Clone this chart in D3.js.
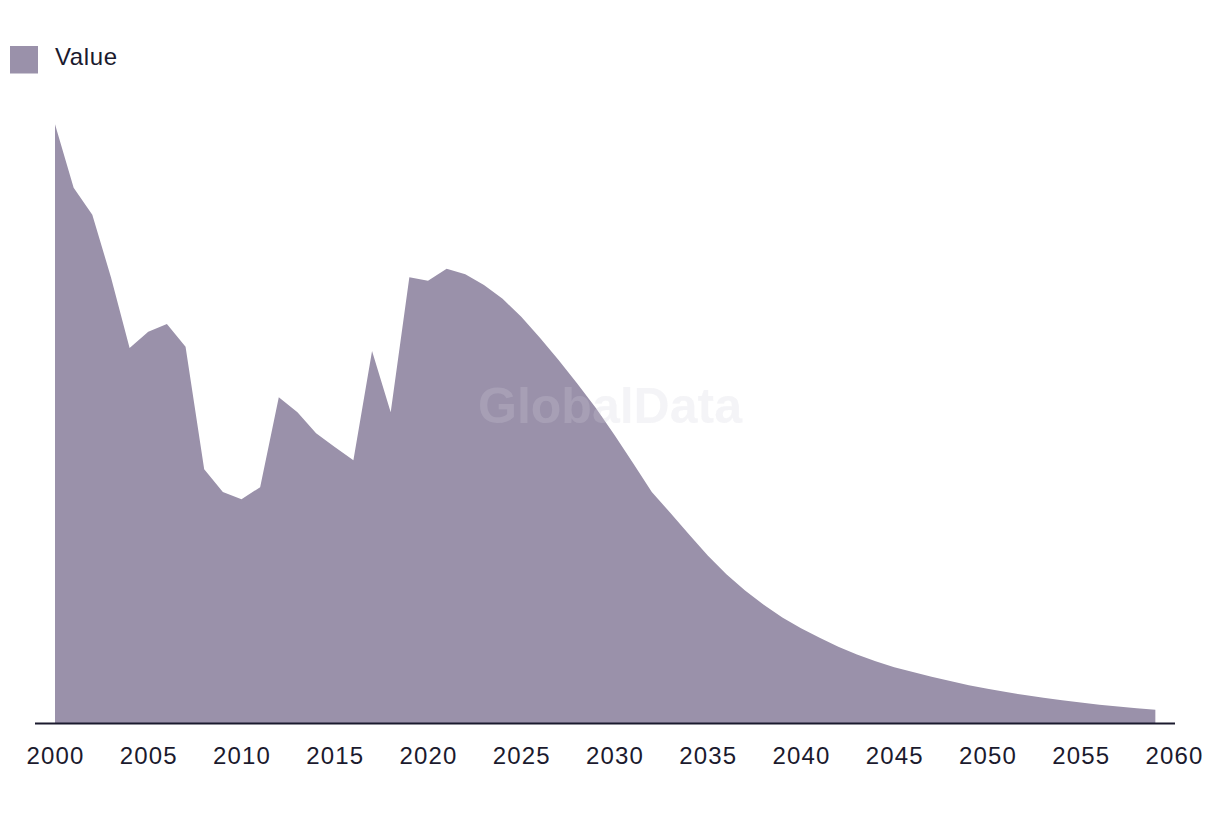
<!DOCTYPE html>
<html>
<head>
<meta charset="utf-8">
<script src="https://cdn.jsdelivr.net/npm/d3@7"></script>
<style>
  html, body { margin: 0; padding: 0; background: #fff; }
  svg { display: block; }
  text { font-family: "Liberation Sans", Arial, sans-serif; }
</style>
</head>
<body>
<svg id="chart" width="1220" height="814"></svg>
<script>
const years = d3.range(2000, 2060);
const values = [
  99.8, 89.2, 84.7, 74.3, 62.5, 65.2, 66.5, 62.7, 42.3, 38.5,
  37.3, 39.3, 54.3, 51.8, 48.3, 46.0, 43.8, 62.0, 51.8, 74.3,
  73.7, 75.7, 74.8, 73.0, 70.7, 67.7, 64.2, 60.5, 56.6, 52.5,
  48.0, 43.3, 38.5, 35.0, 31.4, 27.9, 24.8, 22.1, 19.7, 17.6,
  15.8, 14.2, 12.7, 11.4, 10.3, 9.3, 8.5, 7.7, 7.0, 6.3,
  5.7, 5.15, 4.65, 4.2, 3.8, 3.4, 3.05, 2.75, 2.45, 2.2
];
const tickYears = [2000, 2005, 2010, 2015, 2020, 2025, 2030, 2035, 2040, 2045, 2050, 2055, 2060];
const seriesName = "Value";
const fillColor = "#9a91aa";
const textColor = "#1b1a2e";

const data = years.map((y, i) => ({ year: y, value: values[i] }));
const svg = d3.select("#chart");

const x = d3.scaleLinear().domain([2000, 2060]).range([55, 1174]);
const y = d3.scaleLinear().domain([0, 100]).range([723, 123]);

function watermark(fill, opacity) {
  svg.append("text")
    .attr("x", 610).attr("y", 423)
    .attr("text-anchor", "middle")
    .style("font-family", "'Liberation Sans', Arial, sans-serif")
    .style("font-weight", "700")
    .style("font-size", "50px")
    .attr("fill", fill)
    .attr("fill-opacity", opacity)
    .text("GlobalData");
}

watermark("rgb(228,228,232)", 0.32);

// area
const area = d3.area()
  .x(d => x(d.year))
  .y0(y(0))
  .y1(d => y(d.value));

svg.append("path")
  .datum(data)
  .attr("d", area)
  .attr("fill", fillColor);

watermark("rgb(235,235,240)", 0.16);

// x axis
const xAxis = d3.axisBottom(x)
  .tickValues(tickYears)
  .tickFormat(d3.format("d"))
  .tickSize(0);

const gx = svg.append("g")
  .attr("transform", `translate(0,${y(0)})`)
  .call(xAxis);
gx.select(".domain").remove();
gx.append("line")
  .attr("x1", 35).attr("x2", 1175)
  .attr("y1", 0.5).attr("y2", 0.5)
  .attr("stroke", textColor)
  .attr("stroke-width", 2);
gx.selectAll(".tick text")
  .attr("y", 41)
  .attr("dy", 0)
  .attr("fill", textColor)
  .style("font-size", "24px")
  .style("letter-spacing", "1.2px")
  .style("font-family", "'Liberation Sans', Arial, sans-serif");

// legend
const legend = svg.append("g").attr("transform", "translate(10,46)");
legend.append("rect")
  .attr("width", 28).attr("height", 27.5)
  .attr("fill", fillColor);
legend.append("text")
  .attr("x", 45).attr("y", 19)
  .attr("fill", textColor)
  .style("font-size", "24px")
  .style("letter-spacing", "0.6px")
  .text(seriesName);
</script>
</body>
</html>
